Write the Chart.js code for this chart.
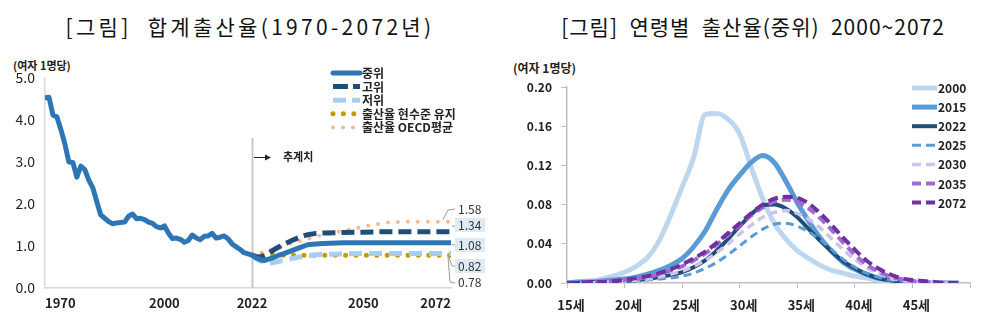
<!DOCTYPE html>
<html><head><meta charset="utf-8">
<script src="https://cdn.jsdelivr.net/npm/chart.js@4"></script>
<style>
html,body{margin:0;padding:0;background:#fff;}
body{width:1000px;height:333px;position:relative;overflow:hidden;font-family:'Noto Sans CJK KR','Noto Sans',sans-serif;}
.title{position:absolute;top:13px;width:500px;text-align:center;font-size:21px;line-height:26px;color:#111;white-space:pre;font-weight:400;}
#t1{left:0;letter-spacing:3.3px;}
#t2{left:503px;letter-spacing:1px;}
.unit{position:absolute;font-weight:700;color:#222;white-space:pre;}
#u1{left:13px;top:57px;font-size:11px;}
#u2{left:513px;top:59px;font-size:12px;}
canvas{position:absolute;top:0;}
#c1{left:0;}
#c2{left:500px;}
</style></head>
<body>
<div class="title" id="t1">[그림]  합계출산율(1970-2072년)</div>
<div class="title" id="t2">[그림]  연령별  출산율(중위)  2000~2072</div>
<div class="unit" id="u1">(여자 1명당)</div>
<div class="unit" id="u2">(여자 1명당)</div>
<canvas id="c1" width="500" height="333"></canvas>
<canvas id="c2" width="500" height="333"></canvas>
<script>
// ---------- Left chart data: total fertility rate ----------
const histYears = [1970,1971,1972,1973,1974,1975,1976,1977,1978,1979,1980,1981,1982,1983,1984,1985,1986,1987,1988,1989,1990,1991,1992,1993,1994,1995,1996,1997,1998,1999,2000,2001,2002,2003,2004,2005,2006,2007,2008,2009,2010,2011,2012,2013,2014,2015,2016,2017,2018,2019,2020,2021,2022];
const histTFR = [4.53,4.54,4.12,4.07,3.77,3.43,3.00,2.99,2.64,2.90,2.82,2.57,2.39,2.06,1.74,1.66,1.58,1.53,1.55,1.56,1.57,1.71,1.76,1.65,1.66,1.63,1.57,1.54,1.46,1.43,1.48,1.31,1.18,1.19,1.16,1.09,1.13,1.26,1.19,1.15,1.23,1.24,1.30,1.19,1.21,1.24,1.17,1.05,0.98,0.92,0.84,0.81,0.78];
const projYears = [2022,2023,2024,2025,2026,2027,2028,2029,2030,2032,2034,2036,2038,2040,2045,2050,2055,2060,2072];
const projMedium = [0.78,0.72,0.68,0.65,0.68,0.71,0.75,0.79,0.82,0.89,0.96,1.03,1.05,1.06,1.08,1.08,1.08,1.08,1.08];
const projHigh   = [0.78,0.75,0.74,0.76,0.82,0.88,0.94,0.99,1.04,1.13,1.21,1.27,1.30,1.31,1.32,1.33,1.34,1.34,1.34];
const projLow    = [0.78,0.70,0.65,0.61,0.59,0.60,0.62,0.64,0.66,0.70,0.74,0.77,0.79,0.80,0.81,0.82,0.82,0.82,0.82];
const projKeep   = [0.78,0.78,0.78,0.78,0.78,0.78,0.78,0.78,0.78,0.78,0.78,0.78,0.78,0.78,0.78,0.78,0.78,0.78,0.78];
const projOECD   = [0.78,0.80,0.83,0.86,0.89,0.92,0.95,0.98,1.01,1.07,1.12,1.17,1.22,1.27,1.36,1.46,1.55,1.58,1.58];
const seriesNamesL = ['중위','고위','저위','출산율 현수준 유지','출산율 OECD평균'];
const yearTicks = [1970,2000,2022,2050,2072];
const endLabels = ['1.58','1.34','1.08','0.82','0.78'];
const projStartLabel = '추계치';

// ---------- Right chart data: age-specific fertility rate ----------
const ages = [15,16,17,18,19,20,21,22,23,24,25,26,27,28,29,30,31,32,33,34,35,36,37,38,39,40,41,42,43,44,45,46,47,48,49];
const asfr2000 = [0,0.001,0.002,0.004,0.007,0.011,0.017,0.026,0.043,0.069,0.098,0.128,0.172,0.173,0.167,0.152,0.118,0.086,0.061,0.045,0.033,0.025,0.018,0.013,0.010,0.007,0.005,0.003,0.002,0.001,0.001,0,0,0,0];
const asfr2015 = [0,0.001,0.001,0.002,0.003,0.004,0.006,0.009,0.013,0.018,0.025,0.037,0.053,0.075,0.095,0.110,0.123,0.130,0.123,0.104,0.082,0.063,0.046,0.032,0.021,0.014,0.009,0.005,0.003,0.002,0.001,0,0,0,0];
const asfr2022 = [0,0,0.001,0.001,0.001,0.002,0.003,0.004,0.006,0.008,0.011,0.016,0.023,0.033,0.045,0.058,0.070,0.079,0.080,0.076,0.067,0.055,0.043,0.032,0.022,0.015,0.009,0.005,0.003,0.001,0.001,0,0,0,0];
const asfr2025 = [0,0,0,0.001,0.001,0.001,0.002,0.003,0.004,0.005,0.007,0.010,0.015,0.021,0.029,0.038,0.047,0.055,0.060,0.061,0.058,0.052,0.044,0.034,0.024,0.016,0.010,0.006,0.003,0.002,0.001,0,0,0,0];
const asfr2030 = [0,0,0,0.001,0.001,0.002,0.003,0.004,0.006,0.009,0.012,0.017,0.023,0.031,0.040,0.050,0.059,0.067,0.072,0.074,0.071,0.065,0.056,0.045,0.034,0.024,0.016,0.010,0.005,0.003,0.001,0.001,0,0,0];
const asfr2035 = [0,0,0.001,0.001,0.002,0.003,0.004,0.006,0.009,0.013,0.017,0.023,0.030,0.039,0.049,0.059,0.069,0.077,0.083,0.085,0.083,0.076,0.066,0.054,0.041,0.029,0.019,0.012,0.007,0.004,0.002,0.001,0,0,0];
const asfr2072 = [0,0,0.001,0.001,0.002,0.003,0.005,0.007,0.010,0.014,0.019,0.025,0.032,0.041,0.051,0.061,0.071,0.080,0.086,0.088,0.087,0.081,0.071,0.059,0.046,0.034,0.023,0.015,0.009,0.005,0.003,0.002,0.001,0,0];
const seriesNamesR = ['2000','2015','2022','2025','2030','2035','2072'];
const ageTicks = [15,20,25,30,35,40,45,50];
const ageTickLabels = ['15세','20세','25세','30세','35세','40세','45세',''];

// ---------- helpers ----------
const FONT = "'Noto Sans CJK KR','Noto Sans',sans-serif";
Chart.defaults.font.family = FONT;
Chart.defaults.color = '#222';
const pts = (xs, ys) => xs.map((x, i) => ({x: x, y: ys[i]}));

function legendPlugin(id, cfg) {
  return {
    id: id,
    afterDraw(chart) {
      const ctx = chart.ctx;
      ctx.save();
      chart.data.datasets.forEach((ds, i) => {
        const y = cfg.y0 + i * cfg.dy;
        ctx.strokeStyle = ds.borderColor;
        ctx.lineWidth = ds.legendWidth || ds.borderWidth;
        ctx.setLineDash(ds.legendDash || ds.borderDash || []);
        ctx.lineCap = ds.borderCapStyle || 'butt';
        ctx.beginPath();
        ctx.moveTo(cfg.x0, y);
        ctx.lineTo(cfg.x1, y);
        ctx.stroke();
        ctx.setLineDash([]);
        ctx.fillStyle = '#222';
        ctx.font = cfg.font;
        ctx.textBaseline = 'middle';
        ctx.textAlign = 'left';
        ctx.fillText(ds.label, cfg.tx, y + 0.5);
      });
      ctx.restore();
    }
  };
}

// ---------- Left chart ----------
const decorLeft = {
  id: 'decorLeft',
  beforeDatasetsDraw(chart) {
    const ctx = chart.ctx, xs = chart.scales.x, ca = chart.chartArea;
    const x = Math.round(xs.getPixelForValue(projYears[0])) + 0.5;
    ctx.save();
    ctx.strokeStyle = '#c8c8c8';
    ctx.lineWidth = 2;
    ctx.beginPath();
    ctx.moveTo(x, 138);
    ctx.lineTo(x, ca.bottom);
    ctx.stroke();
    ctx.restore();
  },
  afterDraw(chart) {
    const ctx = chart.ctx, xs = chart.scales.x, ys = chart.scales.y, ca = chart.chartArea;
    const x0 = xs.getPixelForValue(projYears[0]);
    ctx.save();
    ctx.strokeStyle = '#222'; ctx.fillStyle = '#222'; ctx.lineWidth = 1;
    ctx.beginPath(); ctx.moveTo(x0 + 2, 157.5); ctx.lineTo(x0 + 15, 157.5); ctx.stroke();
    ctx.beginPath(); ctx.moveTo(x0 + 19, 157.5); ctx.lineTo(x0 + 13, 154.5); ctx.lineTo(x0 + 13, 160.5); ctx.closePath(); ctx.fill();
    ctx.font = "bold 11px " + FONT; ctx.textBaseline = 'middle'; ctx.textAlign = 'left';
    ctx.fillText(projStartLabel, x0 + 31, 157);
    const lx = ca.right + 7;
    const labY = [209, 225, 245, 266, 282];
    const boxed = [false, true, true, true, false];
    ctx.font = "12px " + FONT;
    labY.forEach((y, i) => {
      if (boxed[i]) { ctx.fillStyle = '#deebf7'; ctx.fillRect(lx - 3, y - 7, 30, 14); }
    });
    ctx.fillStyle = '#333';
    labY.forEach((y, i) => ctx.fillText(endLabels[i], lx, y));
    ctx.strokeStyle = '#9a9a9a'; ctx.lineWidth = 1;
    const xr = ca.right;
    const lines = [
      [[xr - 8, ys.getPixelForValue(1.58) - 2], [xr - 3, 210], [xr + 4, 209]],
      [[xr + 1, 226], [xr + 4, 226]],
      [[xr + 1, 244.5], [xr + 4, 245]],
      [[xr - 3, 255], [xr + 1, 266], [xr + 4, 266]],
      [[xr - 3, 257], [xr - 1, 282], [xr + 4, 283]]
    ];
    lines.forEach(pl => {
      ctx.beginPath(); ctx.moveTo(pl[0][0], pl[0][1]);
      for (let k = 1; k < pl.length; k++) ctx.lineTo(pl[k][0], pl[k][1]);
      ctx.stroke();
    });
    ctx.restore();
  }
};

new Chart(document.getElementById('c1'), {
  type: 'line',
  data: {
    datasets: [
      {label: seriesNamesL[0], data: pts(histYears, histTFR).concat(pts(projYears, projMedium).slice(1)), borderColor: '#2e75b6', borderWidth: 5, borderCapStyle: 'round', borderJoinStyle: 'round', order: 0},
      {label: seriesNamesL[1], data: pts(projYears, projHigh), borderColor: '#1f4e79', borderWidth: 5, borderDash: [13, 6], legendDash: [15, 5], order: 1},
      {label: seriesNamesL[2], data: pts(projYears, projLow), borderColor: '#a9cdee', borderWidth: 5, borderDash: [13, 7], legendDash: [13, 6], order: 2},
      {label: seriesNamesL[3], data: pts(projYears, projKeep), borderColor: '#c49a00', borderWidth: 5, borderDash: [0, 10.4], borderCapStyle: 'round', order: 3},
      {label: seriesNamesL[4], data: pts(projYears, projOECD), borderColor: '#f6b994', borderWidth: 4, borderDash: [0, 10], borderCapStyle: 'round', order: 4}
    ]
  },
  options: {
    responsive: false, animation: false, devicePixelRatio: 1,
    elements: {point: {radius: 0}, line: {tension: 0}},
    layout: {padding: {top: 78, right: 49, left: 0, bottom: 0}},
    plugins: {legend: {display: false}, tooltip: {enabled: false}, title: {display: false}},
    scales: {
      x: {
        type: 'linear', min: 1970, max: 2072,
        afterBuildTicks: s => { s.ticks = yearTicks.map(v => ({value: v})); },
        afterFit: s => { s.height = 45; },
        grid: {display: true, drawOnChartArea: false, drawTicks: false},
        border: {display: true, color: '#d9d9d9', width: 1.5},
        ticks: {align: 'inner', padding: 7, autoSkip: false, maxRotation: 0, color: '#222', font: {size: 13, weight: 'bold'}, callback: v => String(v)}
      },
      y: {
        min: 0, max: 5,
        afterFit: s => { s.width = 45; },
        grid: {display: true, drawOnChartArea: false, drawTicks: false},
        border: {display: true, color: '#d9d9d9', width: 1.5},
        ticks: {stepSize: 1, padding: 10, color: '#222', font: {size: 14}, callback: v => Number(v).toFixed(1)}
      }
    }
  },
  plugins: [decorLeft, legendPlugin('lgL', {x0: 333, x1: 360, tx: 362, y0: 73, dy: 13.6, font: "bold 12px " + FONT})]
});

// ---------- Right chart ----------
new Chart(document.getElementById('c2'), {
  type: 'line',
  data: {
    datasets: [
      {label: seriesNamesR[0], data: pts(ages, asfr2000), borderColor: '#bdd7ee', borderWidth: 5, order: 6},
      {label: seriesNamesR[1], data: pts(ages, asfr2015), borderColor: '#5b9bd5', borderWidth: 5, order: 5},
      {label: seriesNamesR[2], data: pts(ages, asfr2022), borderColor: '#1f4e79', borderWidth: 4, order: 4},
      {label: seriesNamesR[3], data: pts(ages, asfr2025), borderColor: '#5b9bd5', borderWidth: 3, borderDash: [8, 5], legendDash: [9, 5], order: 3},
      {label: seriesNamesR[4], data: pts(ages, asfr2030), borderColor: '#cdc3ec', borderWidth: 3.5, borderDash: [8, 5], legendDash: [9, 5], order: 2},
      {label: seriesNamesR[5], data: pts(ages, asfr2035), borderColor: '#a06ad6', borderWidth: 4, borderDash: [9, 5], legendDash: [9, 5], order: 1},
      {label: seriesNamesR[6], data: pts(ages, asfr2072), borderColor: '#7030a0', borderWidth: 4, borderDash: [10, 5], legendDash: [9, 5], order: 0}
    ]
  },
  options: {
    responsive: false, animation: false, devicePixelRatio: 1,
    elements: {point: {radius: 0}, line: {cubicInterpolationMode: 'monotone'}},
    layout: {padding: {top: 87, right: 30, left: 0, bottom: 0}},
    plugins: {legend: {display: false}, tooltip: {enabled: false}, title: {display: false}},
    scales: {
      x: {
        type: 'linear', min: 15, max: 50,
        afterBuildTicks: s => { s.ticks = ageTicks.map(v => ({value: v})); },
        afterFit: s => { s.height = 50; },
        grid: {display: true, drawOnChartArea: false, drawTicks: true, tickLength: 5, color: '#bfbfbf'},
        border: {display: true, color: '#bfbfbf', width: 1.5},
        ticks: {padding: 9, labelOffset: 4, autoSkip: false, maxRotation: 0, color: '#222', font: {size: 13, weight: 'bold'},
          callback: v => ageTickLabels[ageTicks.indexOf(v)]}
      },
      y: {
        min: 0, max: 0.2,
        afterFit: s => { s.width = 67; },
        grid: {display: true, drawOnChartArea: false, drawTicks: true, tickLength: 6, color: '#bfbfbf'},
        border: {display: true, color: '#bfbfbf', width: 1.5},
        ticks: {stepSize: 0.04, padding: 9, color: '#222', font: {size: 12, weight: 'bold'}, callback: v => Number(v).toFixed(2)}
      }
    }
  },
  plugins: [legendPlugin('lgR', {x0: 412, x1: 437, tx: 438, y0: 88, dy: 19.1, font: "bold 12px " + FONT})]
});
</script>
</body></html>
